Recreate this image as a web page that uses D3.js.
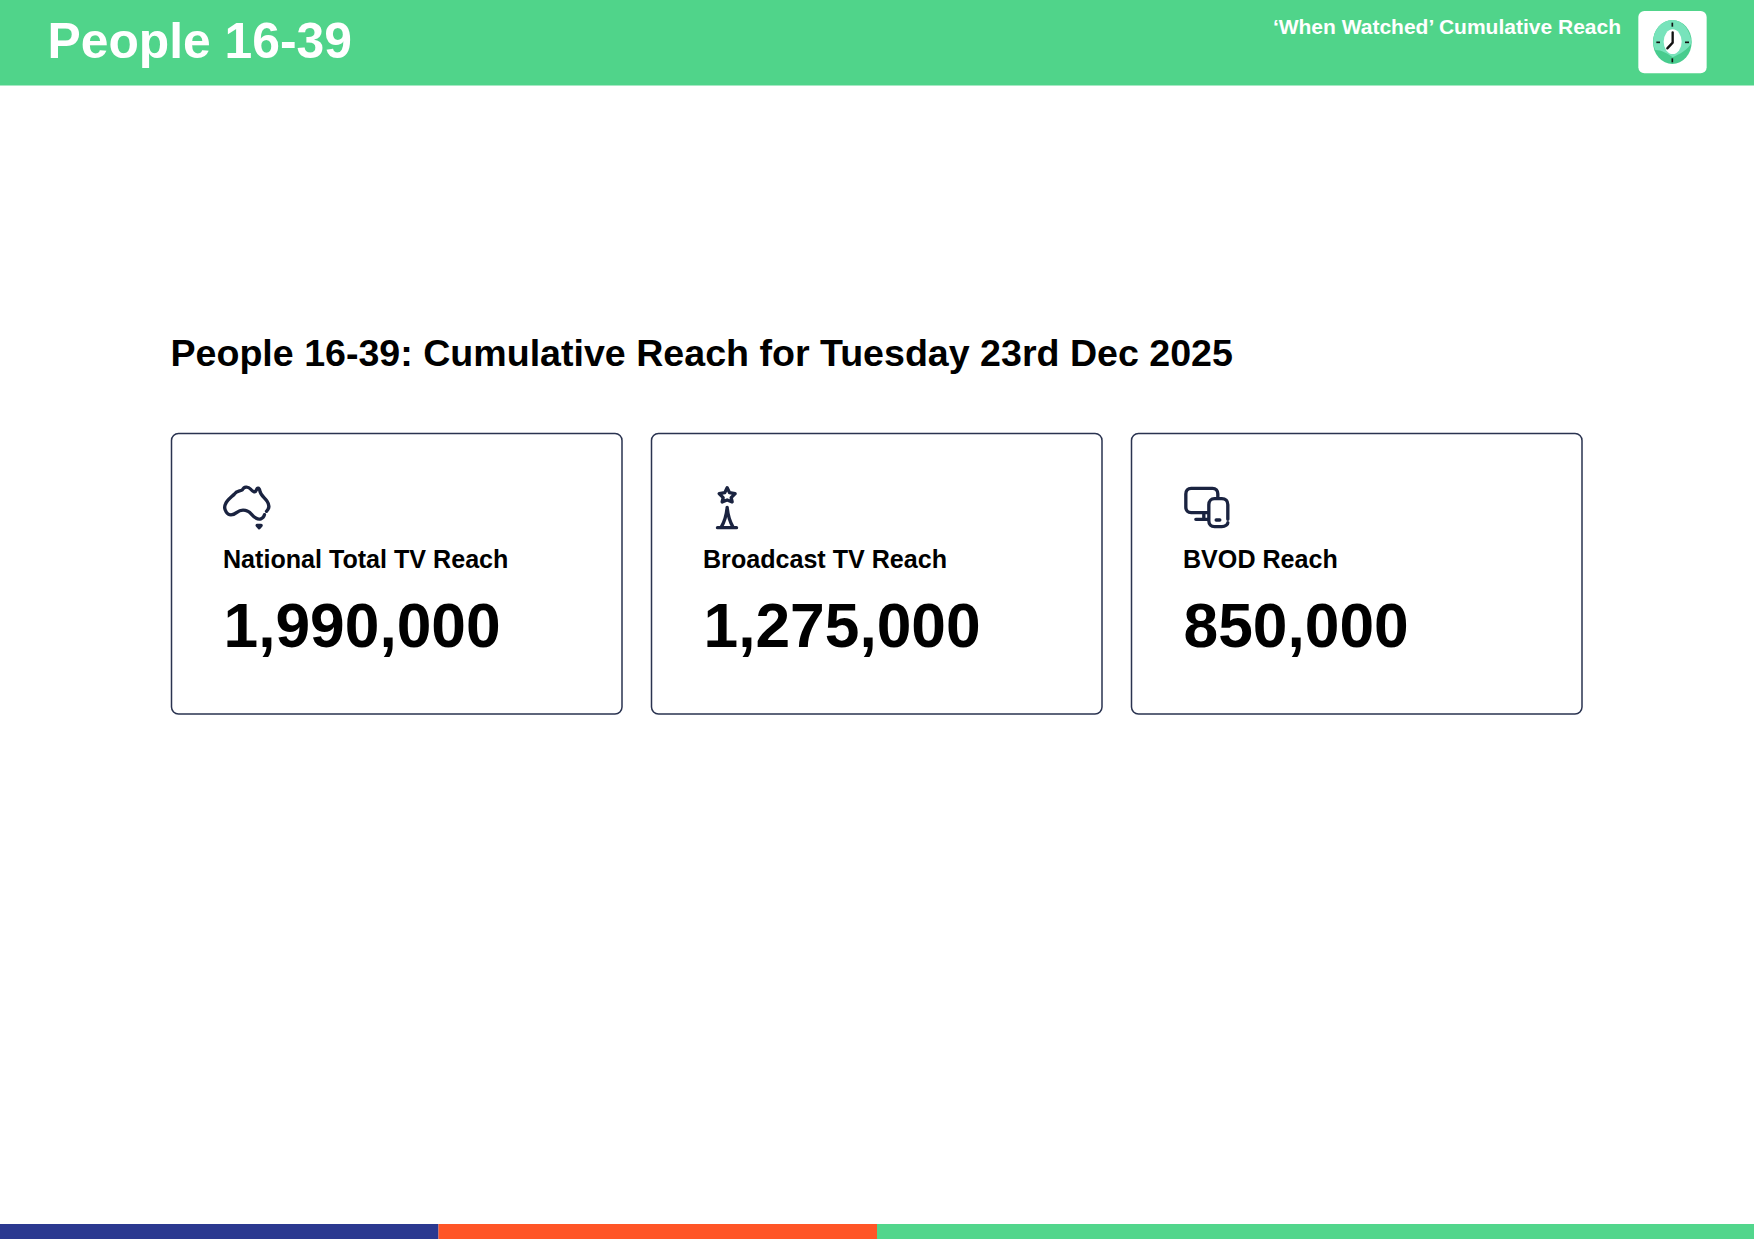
<!DOCTYPE html>
<html>
<head>
<meta charset="utf-8">
<script src="https://cdn.jsdelivr.net/npm/d3@7"></script>
<style>
  html, body { margin: 0; padding: 0; background: #fff; }
  svg { display: block; }
  text { font-family: "Liberation Sans", Arial, sans-serif; font-weight: bold; }
</style>
</head>
<body>
<svg width="1754" height="1241"></svg>
<script>
// values
const audience = "People 16-39";
const subtitle = "\u2018When Watched\u2019 Cumulative Reach";
const heading = "People 16-39: Cumulative Reach for Tuesday 23rd Dec 2025";
const categories = ["National Total TV Reach", "Broadcast TV Reach", "BVOD Reach"];
const reachValues = [1990000, 1275000, 850000];
const stripeColors = ["#2b3990", "#ff5527", "#52d68c"];

const svg = d3.select("svg");
const ink = "#1a2340";

// header band
svg.append("rect").attr("width", 1754).attr("height", 85.5).attr("fill", "#50d48a");
svg.append("text").attr("x", 47.5).attr("y", 58).attr("font-size", 49.8).attr("fill", "#fff").text(audience);
svg.append("text").attr("x", 1621).attr("y", 34).attr("text-anchor", "end").attr("font-size", 21).attr("fill", "#fff").text(subtitle);

// clock badge, drawn in zoom coordinates (3x)
const badge = svg.append("g").attr("transform", "translate(1630,0) scale(0.3333)");
badge.append("rect").attr("x", 25).attr("y", 33).attr("width", 205).attr("height", 187).attr("rx", 18).attr("fill", "#fff");
badge.append("ellipse").attr("cx", 127).attr("cy", 126).attr("rx", 58).attr("ry", 66).attr("fill", "#48cc8e");
badge.append("path").attr("fill", "#78e3bb")
  .attr("d", "M70,120 C72,85 100,60 127,60 C158,60 180,88 185,128 C172,152 150,160 128,172 C112,160 95,150 76,150 C71,140 69,130 70,120 Z");
badge.append("ellipse").attr("cx", 128).attr("cy", 125).attr("rx", 27).attr("ry", 37).attr("fill", "#fff");
const tickPaths = ["M127,68 V80", "M127,175 V187", "M79,127 H90", "M165,127 H177"];
badge.selectAll("path.tick").data(tickPaths).enter().append("path").attr("class", "tick")
  .attr("d", d => d).attr("stroke", "#111").attr("stroke-width", 5).attr("fill", "none");
badge.append("path").attr("d", "M128,97 V128 L112,145").attr("stroke", "#111").attr("stroke-width", 7)
  .attr("fill", "none").attr("stroke-linecap", "round").attr("stroke-linejoin", "round");

// section heading
svg.append("text").attr("x", 170.5).attr("y", 365.5).attr("font-size", 37.6).attr("fill", "#000").text(heading);

// cards
const x = d3.scaleBand().domain(categories).range([171, 1582.5]).paddingInner(0.059375);
const fmt = d3.format(",");

// icons in zoom coordinates, same offset from each card
const iconPaths = [
  [
    "M312,284 C308,298 296,300 286,294 C276,290 272,278 262,274 C250,268 238,270 228,278 C218,286 204,288 197,276 C192,268 191,260 195,252 C200,240 212,232 222,222 C228,212 240,214 246,209 C250,200 262,198 270,207 C276,214 284,220 288,210 C290,202 296,202 298,212 C300,226 312,232 320,244 C328,256 326,266 318,274",
    "M290,316 H302 L296,323 Z"
  ],
  [
    "M260,203 L267,218 L284,221 L272,233 L275,246 L260,240 L245,246 L248,233 L236,221 L253,218 Z",
    "M260,262 L260,285 M260,262 C258,285 252,305 242,322 M260,262 C262,285 268,305 278,322",
    "M231,323 H288"
  ],
  [
    "M262,278 H212 C202,278 196,271 196,262 V222 C196,212 202,205 212,205 H276 C286,205 292,212 292,222 V234",
    "M226,298 H262 M250,278 V298",
    "M322,298 V254 C322,243 315,236 304,236 H282 C272,236 265,243 265,254 V302 C265,313 272,320 282,320 H304 C315,320 322,313 322,308",
    "M287,300 H298"
  ]
];

const cards = svg.selectAll("g.card").data(categories).enter().append("g")
  .attr("class", "card")
  .attr("transform", d => `translate(${x(d)},433)`);

cards.append("rect")
  .attr("x", 0.5).attr("y", 0.5)
  .attr("width", x.bandwidth() - 1).attr("height", 280.5)
  .attr("rx", 7)
  .attr("fill", "#fff").attr("stroke", "#2a3350").attr("stroke-width", 1.5);

const icons = cards.append("g").attr("transform", "translate(-10.5,-13) scale(0.3333)");
icons.selectAll("path").data((d, i) => iconPaths[i]).enter().append("path")
  .attr("d", d => d)
  .attr("fill", "none").attr("stroke", ink).attr("stroke-width", 10)
  .attr("stroke-linecap", "round").attr("stroke-linejoin", "round");

cards.append("text").attr("x", 52).attr("y", 134.5).attr("font-size", 25.1).attr("fill", "#000").text(d => d);
cards.append("text").attr("x", 52.5).attr("y", 214).attr("font-size", 62.3).attr("fill", "#000")
  .text((d, i) => fmt(reachValues[i]));

// bottom stripe
const stripeX = d3.scaleBand().domain(d3.range(4)).range([0, 1754]);
svg.selectAll("rect.stripe").data(stripeColors).enter().append("rect")
  .attr("class", "stripe")
  .attr("x", (d, i) => stripeX(i))
  .attr("y", 1224)
  .attr("width", (d, i) => i === 2 ? stripeX.bandwidth() * 2 : stripeX.bandwidth())
  .attr("height", 15)
  .attr("fill", d => d);
</script>
</body>
</html>
